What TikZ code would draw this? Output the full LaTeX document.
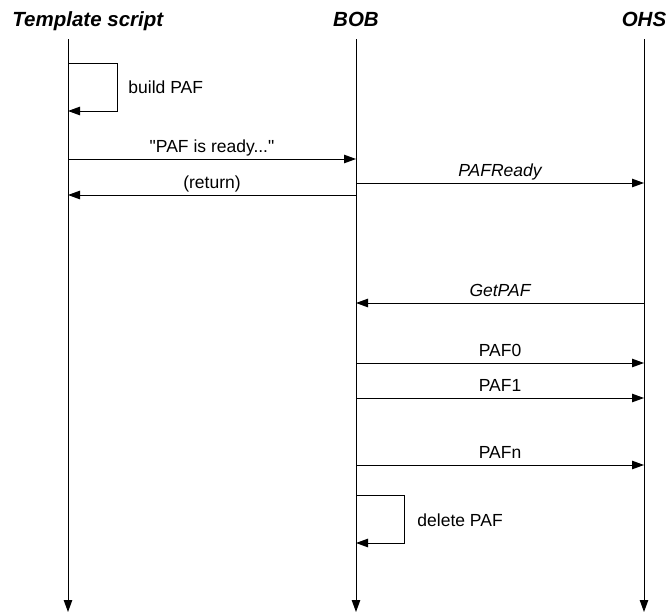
\documentclass[tikz,border=0pt]{standalone}
\usepackage{fontspec}
\setmainfont{Liberation Sans}[Ligatures=TeXOff]
\usetikzlibrary{arrows.meta,positioning}

\begin{document}
\begin{tikzpicture}[x=1pt,y=-1pt,line width=0.9pt,
  msg/.style={-{Triangle[length=12pt,width=8.5pt]}},
  lbl/.style={above=6pt,inner sep=0pt,text depth=0pt,font=\fontsize{17.5}{20}\selectfont},
  note/.style={anchor=base west,inner sep=0pt,font=\fontsize{17.5}{20}\selectfont},
  actor/.style={anchor=base,inner sep=0pt,font=\fontsize{20.5}{24}\selectfont\bfseries\itshape}]
  \useasboundingbox (0,0) rectangle (667,613);
  % actors and lifelines
  \node[actor,anchor=base west] (tmpl) at (12,27) {Template script};
  \node[actor] (bob) at (356,27) {BOB};
  \node[actor] (ohs) at (644,27) {OHS};
  \foreach \n/\x in {t/68,b/356,o/644}{
    \coordinate (\n top) at (\x,39);
    \coordinate (\n end) at (\x,612);
    \draw[msg] (\n top) -- (\n end);
  }
  % build PAF
  \draw[msg] (ttop |- 0,63) -- ++(49,0) -- ++(0,48) -- ++(-49,0);
  \node[note] (build) at (128,93) {build PAF};
  \draw[msg] (ttop |- 0,159) -- node[lbl] (ready) {"PAF is ready..."} (btop |- 0,159);
  \draw[msg] (btop |- 0,195) -- node[lbl] (ret) {(return)} (ttop |- 0,195);
  \draw[msg] (btop |- 0,183) -- node[lbl] (pafready) {\itshape PAFReady} (otop |- 0,183);
  \draw[msg] (otop |- 0,303) -- node[lbl] (getpaf) {\itshape GetPAF} (btop |- 0,303);
  \foreach \y/\t in {363/PAF0,398/PAF1,465/PAFn}
    \draw[msg] (btop |- 0,\y) -- node[lbl] (\t) {\t} (otop |- 0,\y);
  % delete PAF
  \draw[msg] (btop |- 0,495) -- ++(48,0) -- ++(0,48) -- ++(-48,0);
  \node[note] (delete) at (417,526) {delete PAF};
\end{tikzpicture}
\end{document}
